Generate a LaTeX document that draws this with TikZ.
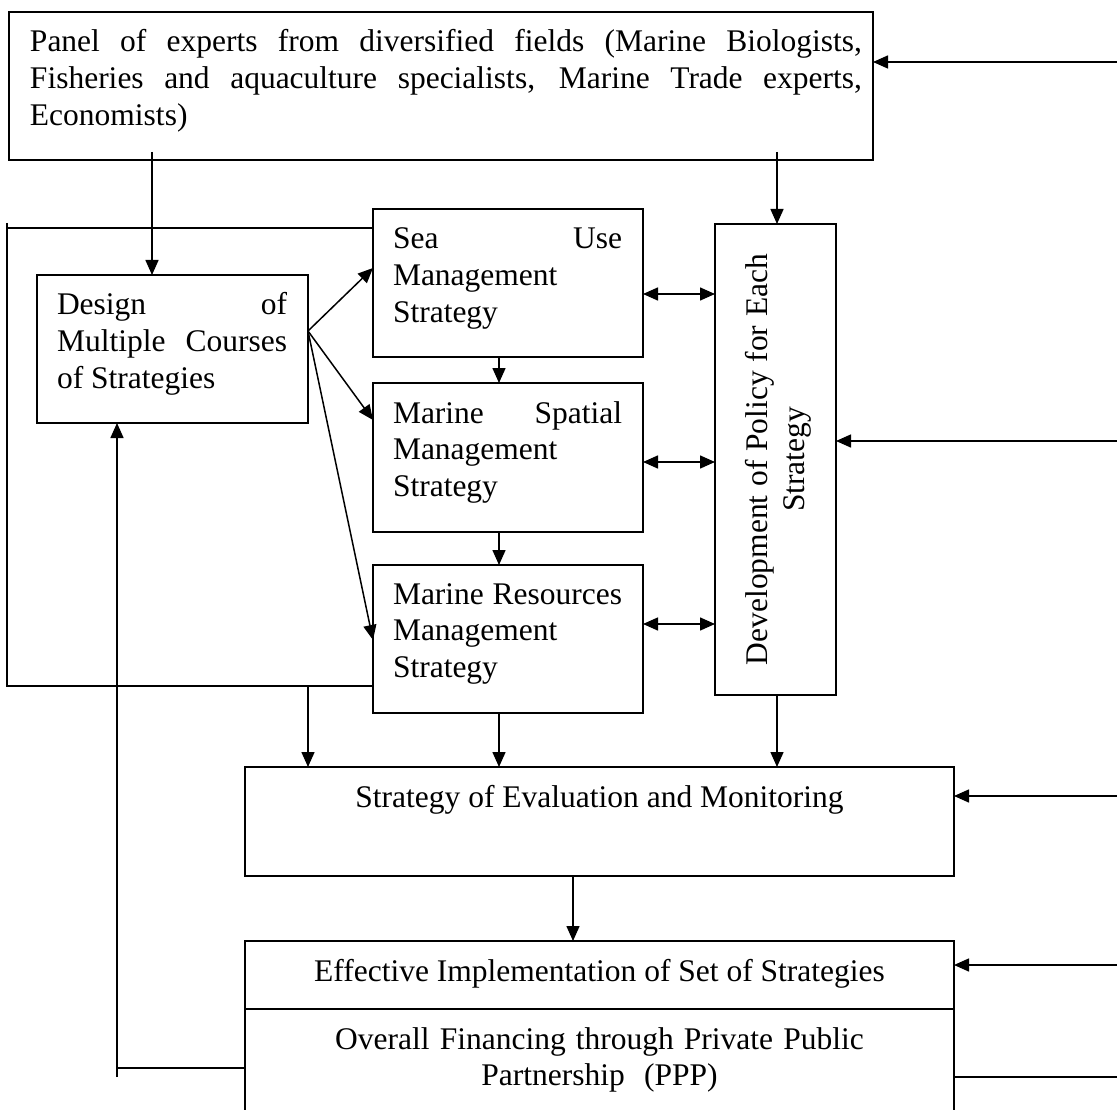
\documentclass[tikz,border=0pt]{standalone}
\usepackage{fontspec}
\setmainfont{Liberation Serif}
\usetikzlibrary{arrows.meta,calc}
\newcommand{\nsp}{\spaceskip=0pt\xspaceskip=0pt\relax}
\newcommand{\jline}[2]{\leavevmode\hbox to #1{\nsp #2}}
\begin{document}
\begin{tikzpicture}[x=1pt,y=-1pt,
  box/.style={draw, line width=1.8pt, inner sep=0pt, outer sep=0pt},
  txt/.style={font=\fontsize{31.5}{36.8}\selectfont, inner sep=0pt, outer sep=0pt, align=left},
  ctxt/.style={font=\fontsize{31.5}{36.8}\selectfont, inner sep=0pt, outer sep=0pt, align=center},
  ln/.style={line width=1.5pt},
  arr/.style={line width=1.5pt, -{Triangle[length=15pt,width=13pt]}},
  darr/.style={line width=1.5pt, {Triangle[length=15pt,width=13pt]}-{Triangle[length=15pt,width=13pt]}}]
\useasboundingbox (0,0) rectangle (1117,1110);
\fill[white] (0,0) rectangle (1117,1110);
\clip (0,0) rectangle (1117,1110);

% boxes
\node[box, minimum width=864pt, minimum height=148pt] (panel) at (441,86) {};
\node[box, minimum width=271pt, minimum height=148pt] (design) at (172.5,349) {};
\node[box, minimum width=270pt, minimum height=148pt] (sea) at (508,283) {};
\node[box, minimum width=270pt, minimum height=149pt] (spatial) at (508,457.5) {};
\node[box, minimum width=270pt, minimum height=148pt] (resources) at (508,639) {};
\node[box, minimum width=121pt, minimum height=471pt] (dev) at (775.5,459.5) {};
\node[box, minimum width=709pt, minimum height=109pt] (eval) at (599.5,821.5) {};
\node[box, minimum width=709pt, minimum height=68pt] (effective) at (599.5,975) {};
\node[box, minimum width=709pt, minimum height=121pt] (overall) at (599.5,1069.5) {};

% texts
\node[txt, text width=832pt, anchor=base west] (panelT) at ($(panel.north west)+(21,40)$)
  {\nsp\jline{832pt}{Panel of experts from diversified fields (Marine Biologists,}\\
   \jline{832pt}{Fisheries and aquaculture specialists, Marine Trade experts,}\\
   Economists)};
\node[txt, text width=230pt, anchor=base west] (designT) at ($(design.north west)+(20,40)$)
  {\nsp\jline{230pt}{Design of}\\ \jline{230pt}{Multiple Courses}\\ of Strategies};
\node[txt, text width=229pt, anchor=base west] (seaT) at ($(sea.north west)+(20,40)$)
  {\nsp\jline{229pt}{Sea Use}\\ Management\\ Strategy};
\node[txt, text width=229pt, anchor=base west] (spatialT) at ($(spatial.north west)+(20,40)$)
  {\nsp\jline{229pt}{Marine Spatial}\\ Management\\ Strategy};
\node[txt, text width=229pt, anchor=base west] (resourcesT) at ($(resources.north west)+(20,39)$)
  {\nsp\jline{229pt}{Marine Resources}\\ Management\\ Strategy};
\node[ctxt, text width=440pt, rotate=90] (devT) at ($(dev.center)+(2.5,0)$)
  {\nsp Development of Policy for Each\\ Strategy};
\node[ctxt, anchor=base] (evalT) at ($(eval.north)+(0,40)$)
  {\nsp Strategy of Evaluation and Monitoring};
\node[ctxt, anchor=base] (effectiveT) at ($(effective.north)+(0,40)$)
  {\nsp Effective Implementation of Set of Strategies};
\node[ctxt, text width=600pt, anchor=base] (overallT) at ($(overall.north)+(0,40)$)
  {\nsp Overall Financing through Private Public\\ Partnership (PPP)};

% free ends
\coordinate (r1) at (1117,62);
\coordinate (r2) at (1117,441);
\coordinate (r3) at (1117,796);
\coordinate (r4) at (1117,965);
\coordinate (r5) at (1117,1077);
\coordinate (p1) at (152,152);
\coordinate (p2) at (777,152);
\coordinate (ds) at (308,331);
\coordinate (tsea) at (373,268);
\coordinate (tspa) at (373,420);
\coordinate (tres) at (373,640);
\coordinate (La) at (7,223);
\coordinate (Lb) at (7,686);
\coordinate (Lc) at (8,228);
\coordinate (Ld) at (308,687);
\coordinate (ev) at (573,876);
\coordinate (fa) at (117,1068);
\coordinate (fb) at (117,1077);
\coordinate (d1) at (643,294);
\coordinate (d2) at (643,462);
\coordinate (d3) at (643,624);
\coordinate (rs) at ($(resources.south)+(-9,0)$);

% right-side inputs
\draw[arr] (r1) -- (r1 -| panel.east);
\draw[arr] (r2) -- (r2 -| dev.east);
\draw[arr] (r3) -- (r3 -| eval.east);
\draw[arr] (r4) -- (r4 -| effective.east);
\draw[ln] (r5) -- (r5 -| overall.east);

% panel outputs
\draw[arr] (p1) -- (p1 |- design.north);
\draw[arr] (p2) -- (p2 |- dev.north);

% design to strategies
\draw[arr] (ds) -- (tsea);
\draw[arr] (ds) -- (tspa);
\draw[arr] (ds) -- (tres);

% chain
\draw[arr] ($(sea.south)+(-9,0)$) -- ($(spatial.north)+(-9,0)$);
\draw[arr] ($(spatial.south)+(-9,0)$) -- ($(resources.north)+(-9,0)$);

% double arrows to policy
\draw[darr] (d1) -- (d1 -| dev.west);
\draw[darr] (d2) -- (d2 -| dev.west);
\draw[darr] (d3) -- (d3 -| dev.west);

% loop on the left
\draw[ln] (La) -- (Lb) -- (Lb -| resources.west);
\draw[ln] (Lc) -- (Lc -| sea.west);

% into evaluation
\draw[arr] (Ld) -- (Ld |- eval.north);
\draw[arr] (rs) -- (rs |- eval.north);
\draw[arr] (dev.south -| p2) -- (p2 |- eval.north);

% evaluation to implementation
\draw[arr] (ev) -- (ev |- effective.north);

% feedback from financing to design
\draw[ln] (fa -| overall.west) -- (fa);
\draw[arr] (fb) -- (fb |- design.south);
\end{tikzpicture}
\end{document}
